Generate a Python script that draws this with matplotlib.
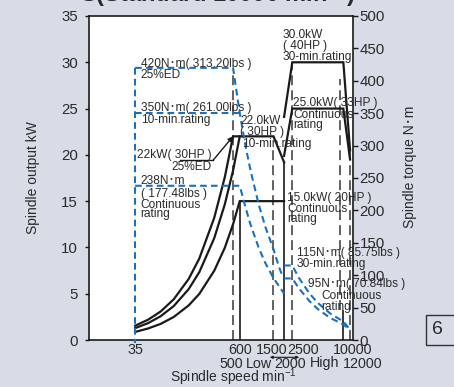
import matplotlib
matplotlib.use('Agg')
import matplotlib.pyplot as plt
from matplotlib.lines import Line2D
from matplotlib.patches import Rectangle, FancyArrowPatch
from matplotlib.ticker import NullLocator

plt.rcParams['font.family'] = ['Liberation Sans', 'Noto Sans CJK JP', 'DejaVu Sans']
plt.rcParams['mathtext.fontset'] = 'custom'
plt.rcParams['mathtext.rm'] = 'Liberation Sans'
plt.rcParams['mathtext.it'] = 'Liberation Sans:italic'
plt.rcParams['mathtext.bf'] = 'Liberation Sans:bold'

W, H = 454, 387
BG = '#d8dce6'
BLUE = '#1b6fbf'
INK = '#1a1a1a'
GREY = '#555555'
TXT = '#2a2a2a'

# ---------------- data ----------------
# output (kW) vs speed (min-1)
low_25ed_speed = [35, 50, 70, 100, 150, 200, 300, 400, 500, 1500, 2000]
low_25ed_kw = [1.54, 2.2, 3.08, 4.4, 6.6, 8.8, 13.2, 17.6, 22.0, 22.0, 19.2]
low_10min_speed = [35, 50, 70, 100, 150, 200, 300, 400, 500, 600]
low_10min_kw = [1.28, 1.83, 2.57, 3.67, 5.5, 7.33, 11.0, 14.66, 18.3, 22.0]
low_cont_speed = [35, 50, 70, 100, 150, 200, 300, 400, 500, 600, 2000]
low_cont_kw = [0.87, 1.25, 1.74, 2.49, 3.74, 4.98, 7.48, 9.97, 12.5, 15.0, 15.0]
high_30min_speed = [2000, 2500, 10000, 12000]
high_30min_kw = [24.1, 30.0, 30.0, 20.5]
high_cont_speed = [2000, 2500, 10000, 12000]
high_cont_kw = [19.9, 25.0, 25.0, 19.5]

# torque (N·m) vs speed
tq_25ed_speed = [35, 500, 600, 700, 800, 1000, 1200, 1500, 1750, 1900]
tq_25ed_nm = [420, 420, 350, 300, 263, 210, 175, 140, 112, 100]
tq_10min_speed = [35, 600]
tq_10min_nm = [350, 350]
tq_lowcont_speed = [35, 600, 700, 800, 1000, 1200, 1500, 2000]
tq_lowcont_nm = [238, 238, 205, 179, 143, 119, 95.5, 71.6]
tq_30min_speed = [2000, 2500, 3000, 4000, 5000, 7000, 10000, 12000]
tq_30min_nm = [115, 115, 95.5, 71.6, 57.3, 40.9, 28.6, 16.3]
tq_highcont_speed = [2000, 2500, 3000, 4000, 5000, 7000, 10000, 12000]
tq_highcont_nm = [95, 95, 79.6, 59.7, 47.7, 34.1, 23.9, 15.5]
tq_base_speed = [35, 35]
tq_base_nm = [420, -5]

# vertical boundary lines (kW extents)
dashed_speeds = [500, 1500, 2500, 9200, 12000]
dashed_top_kw = [29.0, 21.0, 30.0, 28.2, 20.5]
dashed_bot_kw = [0, 0, 0, 3.2, 0]
solid_speeds = [600, 2000, 10000]
solid_top_kw = [15.0, 19.2, 3.2]

kw_ticks = [0, 5, 10, 15, 20, 25, 30, 35]
nm_ticks = [0, 50, 100, 150, 200, 250, 300, 350, 400, 450, 500]
xrow1 = [("35", 135), ("600", 240), ("1500", 271.5), ("2500", 303.5), ("10000", 353)]
xrow2 = [("500", 231.7), ("Low", 258.7), ("2000", 290.3), ("High", 325), ("12000", 363)]

# ---------------- figure ----------------
fig = plt.figure(figsize=(W / 100, H / 100), dpi=100, facecolor=BG)
ax = fig.add_axes([89 / W, 1 - 340 / H, (353 - 89) / W, (340 - 16) / H])
ax.set_facecolor('white')
ax.set_xscale('log')
ax.set_xlim(10, 13000)
ax.set_ylim(0, 35)
ax.set_yticks(kw_ticks)
ax.tick_params(axis='y', direction='out', length=3.1, width=1.0, pad=4.8,
               labelsize=10.8, labelcolor=TXT, color=INK)
for s in ax.spines.values():
    s.set_linewidth(1.2)
    s.set_color(INK)

ax2 = ax.twinx()
ax2.set_ylim(0, 500)
ax2.set_yticks(nm_ticks)
ax2.tick_params(axis='y', direction='out', length=3.5, width=1.0, pad=1.2,
                labelsize=10.8, labelcolor=TXT, color=INK)
for s in ax2.spines.values():
    s.set_visible(False)
for a in (ax, ax2):
    a.xaxis.set_major_locator(NullLocator())
    a.xaxis.set_minor_locator(NullLocator())
    a.yaxis.set_minor_locator(NullLocator())

# vertical boundary lines
dash_style = (0, (5.5, 2.8))
ax.vlines(dashed_speeds, dashed_bot_kw, dashed_top_kw, colors=GREY, lw=1.3,
          linestyles=[dash_style])
ax.vlines(solid_speeds, 0, solid_top_kw, colors=INK, lw=1.2)

# output curves
for xs, ys in [(low_25ed_speed, low_25ed_kw), (low_10min_speed, low_10min_kw),
               (low_cont_speed, low_cont_kw), (high_30min_speed, high_30min_kw),
               (high_cont_speed, high_cont_kw)]:
    ax.plot(xs, ys, color=INK, lw=1.6, solid_joinstyle='miter')

# torque curves
bstyle = dict(color=BLUE, lw=1.5, linestyle=(0, (3.2, 2.0)))
for xs, ys in [(tq_25ed_speed, tq_25ed_nm), (tq_10min_speed, tq_10min_nm),
               (tq_lowcont_speed, tq_lowcont_nm), (tq_30min_speed, tq_30min_nm),
               (tq_highcont_speed, tq_highcont_nm)]:
    ax2.plot(xs, ys, **bstyle)
ax2.plot(tq_base_speed, tq_base_nm, clip_on=False, **bstyle)


def ptext(x, y, s, size=8.6, **kw):
    kw.setdefault('ha', 'left')
    kw.setdefault('va', 'baseline')
    kw.setdefault('color', TXT)
    return fig.text(x / W, 1 - y / H, s, fontsize=size, **kw)


notes = [
    ("420N･m( 313.20lbs )", 140.7, 66.7),
    ("25%ED", 140.7, 78.5),
    ("350N･m( 261.00lbs )", 140.7, 111),
    ("10-min.rating", 140.7, 123),
    ("22kW( 30HP )", 136.7, 158.3),
    ("25%ED", 171.7, 170),
    ("238N･m", 140.7, 184),
    ("( 177.48lbs )", 140.7, 196.7),
    ("Continuous", 140.7, 207.5),
    ("rating", 140.7, 217.5),
    ("22.0kW", 240, 124),
    ("( 30HP )", 240, 135),
    ("10-min.rating", 241.7, 147.3),
    ("30.0kW", 282.7, 37.7),
    ("( 40HP )", 282.7, 49),
    ("30-min.rating", 282.7, 60.3),
    ("25.0kW( 33HP )", 293.3, 106),
    ("Continuous", 293.3, 118),
    ("rating", 293.3, 128.3),
    ("15.0kW( 20HP )", 287.3, 200.7),
    ("Continuous", 287.3, 211.7),
    ("rating", 287.3, 221.7),
    ("115N･m( 85.75lbs )", 296.7, 256),
    ("30-min.rating", 296.7, 267.3),
    ("95N･m( 70.84lbs )", 308.3, 287.3),
    ("Continuous", 321, 299),
    ("rating", 321, 310),
]
for s, x, y in notes:
    ptext(x, y, s)

# leader line with arrow for "22kW( 30HP ) 25%ED"
fig.add_artist(Line2D([180 / W, 213.3 / W], [1 - 160 / H, 1 - 160 / H],
                      color=INK, lw=1.0, transform=fig.transFigure))
ax.annotate('', xy=(500, 22.0), xycoords='data',
            xytext=(213.3, H - 160), textcoords='figure pixels',
            arrowprops=dict(arrowstyle='-|>', color=INK, lw=1.0,
                            mutation_scale=7, shrinkA=0, shrinkB=0))

# x-axis labels (two rows)
for s, x in xrow1:
    ptext(x, 353.5, s, size=10.3, ha='center')
for s, x in xrow2:
    ptext(x, 367.5, s, size=10.3, ha='center')
fig.add_artist(FancyArrowPatch(
    (267 / W, 1 - 357.3 / H), (302 / W, 1 - 357.3 / H), transform=fig.transFigure,
    arrowstyle='<|-|>', mutation_scale=4, lw=0.8, color=INK))

# axis titles
ptext(33, 178, "Spindle output kW", size=10, ha='center', va='center', rotation=90)
ptext(410, 167, "Spindle torque N･m", size=10, ha='center', va='center', rotation=90)
ptext(233.5, 382, "Spindle speed min$^{-1}$", size=10, ha='center')

# cut-off heading at top
ptext(80, 2.0, "S(Standard 10000 min$^{-1}$)", size=17, fontweight='bold')

# page number box
fig.add_artist(Rectangle((426 / W, 1 - 345 / H), 40 / W, 30 / H,
                         transform=fig.transFigure, fill=False,
                         edgecolor='#333333', lw=1.0))
ptext(437, 330, "6", size=14, ha='center', va='center')

fig.savefig('out.png', dpi=100, facecolor=BG)
